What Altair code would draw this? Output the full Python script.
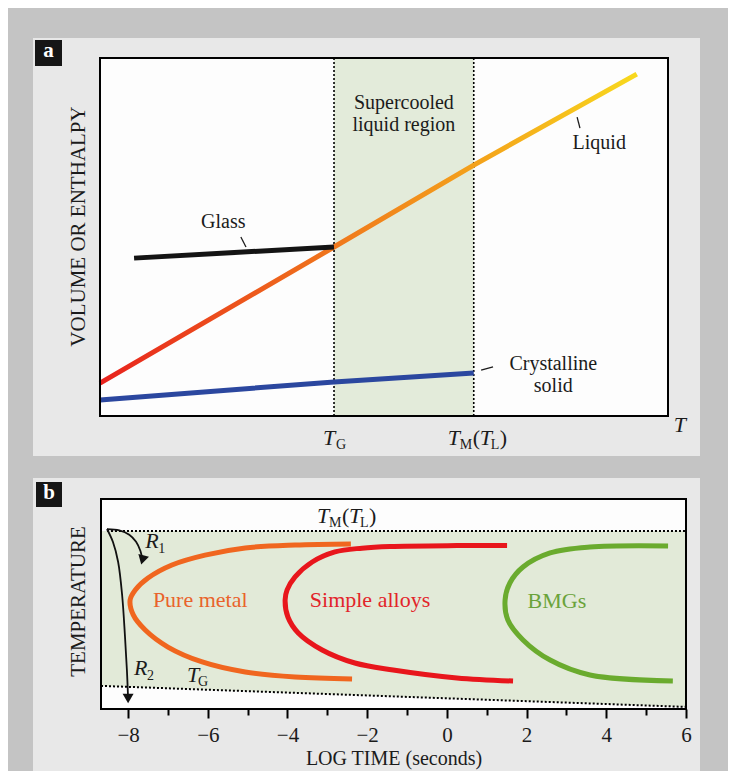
import altair as alt
import pandas as pd

# ------------------------------------------------------------------
# Panel a : volume / enthalpy versus temperature (arbitrary units 0-100)
# ------------------------------------------------------------------
T_G = 41.2
T_M = 65.8
liquid_T = [0.0, 41.2, 65.8, 94.5]
liquid_V = [9.2, 47.2, 70.1, 95.5]
glass_T = [6.0, 41.2]
glass_V = [44.1, 47.2]
crystal_T = [0.0, 41.2, 65.8]
crystal_V = [4.5, 9.5, 12.0]

# annotation anchors (data units of panel a)
a_text = [["Supercooled", "liquid region"], ["Liquid"], ["Glass"], ["Crystalline", "solid"]]
a_text_T = [53.5, 87.9, 21.7, 79.8]
a_text_V = [85.8, 74.5, 52.4, 12.9]
a_lead_T1 = [84.0, 24.8, 67.1]
a_lead_V1 = [83.5, 50.0, 12.8]
a_lead_T2 = [84.5, 25.7, 69.2]
a_lead_V2 = [80.4, 47.2, 13.7]

# ------------------------------------------------------------------
# Panel b : TTT diagram, temperature versus log time (s)
# ------------------------------------------------------------------
log_t_ticks = list(range(-8, 7))
b_x_min, b_x_max = -8.68, 6.0
TM_level = 84.8
TM_line_start = -8.53
TG_left, TG_right = 11.0, 1.0

pure_x = [-2.41, -3.81, -5.06, -6.07, -6.90, -7.50, -7.82, -7.95, -7.87, -7.57, -7.00, -6.14, -5.06, -3.81, -2.38]
pure_y = [78.6, 78.1, 76.7, 73.3, 68.6, 62.4, 56.7, 51.9, 44.8, 37.6, 29.5, 22.4, 17.6, 15.2, 14.3]
alloy_x = [1.51, 0.25, -1.43, -2.13, -2.81, -3.38, -3.81, -4.01, -4.06, -3.99, -3.73, -3.13, -2.31, -1.35, 0.25, 1.66]
alloy_y = [77.8, 77.8, 77.4, 76.6, 74.8, 70.0, 62.9, 56.7, 51.9, 43.8, 36.2, 28.1, 21.9, 18.6, 14.8, 13.3]
bmg_x = [5.55, 3.59, 2.59, 1.91, 1.58, 1.46, 1.53, 1.91, 2.59, 3.59, 5.67]
bmg_y = [77.6, 77.1, 74.3, 67.6, 60.0, 51.9, 42.4, 32.9, 23.3, 16.2, 13.3]

r1_x = [-8.53, -8.22, -7.97, -7.80, -7.69, -7.64]
r1_y = [85.7, 85.1, 83.0, 79.6, 75.2, 71.0]
r2_x = [-8.53, -8.38, -8.25, -8.15, -8.08, -8.03, -8.00]
r2_y = [85.7, 79.5, 70.0, 54.3, 35.2, 18.6, 5.0]

b_text = ["Pure metal", "Simple alloys", "BMGs"]
b_text_x = [-6.19, -1.93, 2.76]
b_text_y = [48.6, 48.6, 48.1]

# ------------------------------------------------------------------
FONT = "Liberation Serif"
INK = "#1b1b1b"
W, H = 720, 763

ax_scale = alt.Scale(domain=[0, 100], range=[92, 660], nice=False, zero=False)
ay_scale = alt.Scale(domain=[0, 100], range=[408, 50], nice=False, zero=False)
bx_scale = alt.Scale(domain=[b_x_min, b_x_max], range=[93, 678], nice=False, zero=False)
by_scale = alt.Scale(domain=[0, 100], range=[701, 491], nice=False, zero=False)

ay_axis = alt.Axis(title="VOLUME OR ENTHALPY", orient="left", labels=False, ticks=False,
                   domain=False, grid=False, titleX=70, titleY=218, titleAngle=270,
                   titleAlign="center", titleBaseline="middle", titleFont=FONT,
                   titleFontSize=21, titleFontWeight="normal", titleColor=INK, zindex=2)
by_axis = alt.Axis(title="TEMPERATURE", orient="left", labels=False, ticks=False,
                   domain=False, grid=False, titleX=70, titleY=593, titleAngle=270,
                   titleAlign="center", titleBaseline="middle", titleFont=FONT,
                   titleFontSize=21, titleFontWeight="normal", titleColor=INK, zindex=2)
bx_axis = alt.Axis(title="LOG TIME (seconds)", orient="bottom", offset=-62,
                   values=log_t_ticks,
                   labelExpr="datum.value % 2 === 0 ? datum.label : ''",
                   tickSize={"condition": {"test": "datum.value % 2 === 0", "value": 9}, "value": 6},
                   tickWidth=2, tickColor="black", domain=False, grid=False,
                   labelFont=FONT, labelFontSize=21, labelColor=INK, labelPadding=6,
                   labelFlush=False, labelOverlap=False,
                   titleFont=FONT, titleFontSize=20, titleFontWeight="normal",
                   titleColor=INK, titlePadding=3, zindex=2)


def AX(f):
    return alt.X(f, type="quantitative", scale=ax_scale, axis=None)


def AY(f):
    return alt.Y(f, type="quantitative", scale=ay_scale, axis=ay_axis)


def BX(f):
    return alt.X(f, type="quantitative", scale=bx_scale, axis=bx_axis)


def BY(f):
    return alt.Y(f, type="quantitative", scale=by_scale, axis=by_axis)


def piece(X, Y, xv, yv, text, dx=0, dy=0, size=22, italic=False, align="left", color=INK):
    df = pd.DataFrame({"x": [xv], "y": [yv], "t": [text]})
    return alt.Chart(df).mark_text(
        dx=dx, dy=dy, align=align, baseline="alphabetic", font=FONT, fontSize=size,
        fontStyle="italic" if italic else "normal", color=color
    ).encode(x=X("x"), y=Y("y"), text="t:N")


# ---------------- panel a ----------------
box_a = pd.DataFrame({"x0": [0], "x1": [100], "y0": [0], "y1": [100]})
a_bg = alt.Chart(box_a).mark_rect(color="#fdfdfd").encode(
    x=AX("x0"), x2="x1", y=AY("y0"), y2="y1")
a_green = alt.Chart(pd.DataFrame({"x0": [T_G], "x1": [T_M], "y0": [0], "y1": [100]})).mark_rect(
    color="#e3ebda").encode(x=AX("x0"), x2="x1", y=AY("y0"), y2="y1")
a_vr = alt.Chart(pd.DataFrame({"x": [T_G, T_M], "y0": [0, 0], "y1": [100, 100]})).mark_rule(
    color="black", strokeWidth=1.6, strokeDash=[2, 2]).encode(x=AX("x"), y=AY("y0"), y2="y1")
liquid = alt.Chart(pd.DataFrame({"x": liquid_T, "y": liquid_V})).mark_line(
    strokeWidth=5,
    stroke={"gradient": "linear", "x1": 0, "y1": 0, "x2": 1, "y2": 0,
            "stops": [{"offset": 0, "color": "#e8221d"},
                      {"offset": 0.45, "color": "#f07a1c"},
                      {"offset": 0.72, "color": "#f4a51b"},
                      {"offset": 1, "color": "#f8d91e"}]}
).encode(x=AX("x"), y=AY("y"))
glass = alt.Chart(pd.DataFrame({"x": glass_T, "y": glass_V})).mark_line(
    color="#141414", strokeWidth=5).encode(x=AX("x"), y=AY("y"))
crystal = alt.Chart(pd.DataFrame({"x": crystal_T, "y": crystal_V})).mark_line(
    color="#2b479f", strokeWidth=5).encode(x=AX("x"), y=AY("y"))
a_lead = alt.Chart(pd.DataFrame({"x": a_lead_T1, "y": a_lead_V1, "x2": a_lead_T2, "y2": a_lead_V2})).mark_rule(
    color=INK, strokeWidth=1.3).encode(x=AX("x"), y=AY("y"), x2="x2", y2="y2")
a_txt = alt.Chart(pd.DataFrame({"x": a_text_T, "y": a_text_V, "t": a_text})).mark_text(
    font=FONT, fontSize=20, color=INK, align="center", baseline="alphabetic", lineHeight=22.5).encode(
    x=AX("x"), y=AY("y"), text="t")
a_frame = alt.Chart(box_a).mark_rect(fillOpacity=0, stroke="black", strokeWidth=2).encode(
    x=AX("x0"), x2="x1", y=AY("y0"), y2="y1")

a_pieces = [
    piece(AX, AY, 102.1, -4.5, "T", italic=True, align="center"),
    piece(AX, AY, T_G, -8.1, "T", dx=-11, italic=True),
    piece(AX, AY, T_G, -8.1, "G", dx=2, dy=4, size=14),
    piece(AX, AY, T_M, -8.1, "T", dx=-26, italic=True),
    piece(AX, AY, T_M, -8.1, "M", dx=-14, dy=4, size=14),
    piece(AX, AY, T_M, -8.1, "(", dx=-1),
    piece(AX, AY, T_M, -8.1, "T", dx=6, italic=True),
    piece(AX, AY, T_M, -8.1, "L", dx=17, dy=4, size=14),
    piece(AX, AY, T_M, -8.1, ")", dx=26),
]

panel_a = alt.layer(a_bg, a_green, a_vr, liquid, glass, crystal, a_lead, a_txt, *a_pieces, a_frame)

# ---------------- panel b ----------------
box_b = pd.DataFrame({"x0": [b_x_min], "x1": [b_x_max], "y0": [0], "y1": [100]})
b_bg = alt.Chart(box_b).mark_rect(color="#fdfdfd").encode(
    x=BX("x0"), x2="x1", y=BY("y0"), y2="y1")
b_green = alt.Chart(pd.DataFrame({"x": [b_x_min, b_x_max], "top": [TM_level, TM_level],
                                  "bot": [TG_left, TG_right]})).mark_area(color="#e2ead8").encode(
    x=BX("x"), y=BY("top"), y2="bot")
b_tm = alt.Chart(pd.DataFrame({"x": [TM_line_start], "x2": [b_x_max], "y": [TM_level]})).mark_rule(
    color="black", strokeWidth=2, strokeDash=[2, 2]).encode(x=BX("x"), x2="x2", y=BY("y"))
b_tg = alt.Chart(pd.DataFrame({"x": [b_x_min], "x2": [b_x_max], "y": [TG_left], "y2": [TG_right]})).mark_rule(
    color="black", strokeWidth=2, strokeDash=[2, 2]).encode(x=BX("x"), x2="x2", y=BY("y"), y2="y2")


def ccurve(xs, ys, color):
    df = pd.DataFrame({"x": xs, "y": ys, "i": list(range(len(xs)))})
    return alt.Chart(df).mark_line(color=color, strokeWidth=5, interpolate="catmull-rom").encode(
        x=BX("x"), y=BY("y"), order="i:Q")


c_pure = ccurve(pure_x, pure_y, "#f0661f")
c_alloy = ccurve(alloy_x, alloy_y, "#e8161c")
c_bmg = ccurve(bmg_x, bmg_y, "#6aab2e")


def arrow_line(xs, ys):
    df = pd.DataFrame({"x": xs, "y": ys, "i": list(range(len(xs)))})
    return alt.Chart(df).mark_line(color="#111111", strokeWidth=1.8, interpolate="catmull-rom").encode(
        x=BX("x"), y=BY("y"), order="i:Q")


r1 = arrow_line(r1_x, r1_y)
r2 = arrow_line(r2_x, r2_y)
head1 = alt.Chart(pd.DataFrame({"x": [r1_x[-1]], "y": [r1_y[-1]]})).mark_point(
    shape="triangle-down", filled=True, color="#111111", size=120, angle=15, opacity=1).encode(
    x=BX("x"), y=BY("y"))
head2 = alt.Chart(pd.DataFrame({"x": [r2_x[-1]], "y": [r2_y[-1]]})).mark_point(
    shape="triangle-down", filled=True, color="#111111", size=120, opacity=1).encode(
    x=BX("x"), y=BY("y"))

b_txt = alt.Chart(pd.DataFrame({"x": b_text_x, "y": b_text_y, "t": b_text,
                                "c": ["#e9632b", "#e2242a", "#6aa33a"]})).mark_text(
    font=FONT, fontSize=22, align="center", baseline="alphabetic").encode(
    x=BX("x"), y=BY("y"), text="t:N", color=alt.Color("c:N", scale=None))
b_frame = alt.Chart(box_b).mark_rect(fillOpacity=0, stroke="black", strokeWidth=2).encode(
    x=BX("x0"), x2="x1", y=BY("y0"), y2="y1")

b_pieces = [
    piece(BX, BY, -2.48, 88.6, "T", dx=-31, italic=True),
    piece(BX, BY, -2.48, 88.6, "M", dx=-19, dy=4, size=14),
    piece(BX, BY, -2.48, 88.6, "(", dx=-6),
    piece(BX, BY, -2.48, 88.6, "T", dx=1, italic=True),
    piece(BX, BY, -2.48, 88.6, "L", dx=12, dy=4, size=14),
    piece(BX, BY, -2.48, 88.6, ")", dx=21),
    piece(BX, BY, -7.57, 76.7, "R", italic=True),
    piece(BX, BY, -7.57, 76.7, "1", dx=13, dy=5, size=14),
    piece(BX, BY, -7.85, 16.2, "R", italic=True),
    piece(BX, BY, -7.85, 16.2, "2", dx=13, dy=5, size=14),
    piece(BX, BY, -6.52, 12.9, "T", italic=True),
    piece(BX, BY, -6.52, 12.9, "G", dx=11, dy=4, size=14),
]

panel_b = alt.layer(b_bg, b_green, b_tm, b_tg, c_pure, c_alloy, c_bmg, r1, r2, head1, head2,
                    b_txt, *b_pieces, b_frame)

# ---------------- decoration (page cards and panel letters) ----------------
one = pd.DataFrame({"k": [0]})
card_a = alt.Chart(one).mark_rect(color="#e8e8e8").encode(
    x=alt.value(25), x2=alt.value(692), y=alt.value(30), y2=alt.value(448))
card_b = alt.Chart(one).mark_rect(color="#e8e8e8").encode(
    x=alt.value(25), x2=alt.value(692), y=alt.value(470), y2=alt.value(763))
tag_a = alt.Chart(one).mark_rect(color="#161616").encode(
    x=alt.value(27), x2=alt.value(54), y=alt.value(32), y2=alt.value(58))
tag_b = alt.Chart(one).mark_rect(color="#161616").encode(
    x=alt.value(28), x2=alt.value(54), y=alt.value(474), y2=alt.value(499))
tag_a_t = alt.Chart(one).mark_text(text="a", color="white", font=FONT, fontSize=21,
                                   fontWeight="bold", align="center", baseline="middle").encode(
    x=alt.value(40.5), y=alt.value(43))
tag_b_t = alt.Chart(one).mark_text(text="b", color="white", font=FONT, fontSize=21,
                                   fontWeight="bold", align="center", baseline="middle").encode(
    x=alt.value(41), y=alt.value(485))

deco_bg = alt.layer(card_a, card_b)
deco_fg = alt.layer(tag_a, tag_b, tag_a_t, tag_b_t)

chart = alt.layer(deco_bg, panel_a, panel_b, deco_fg).resolve_scale(
    x="independent", y="independent"
).properties(
    width=W, height=H, padding=0, autosize="none", background="#c4c4c4"
).configure_view(stroke=None)

chart.save("out.html", embed_options={"renderer": "svg", "actions": False})
